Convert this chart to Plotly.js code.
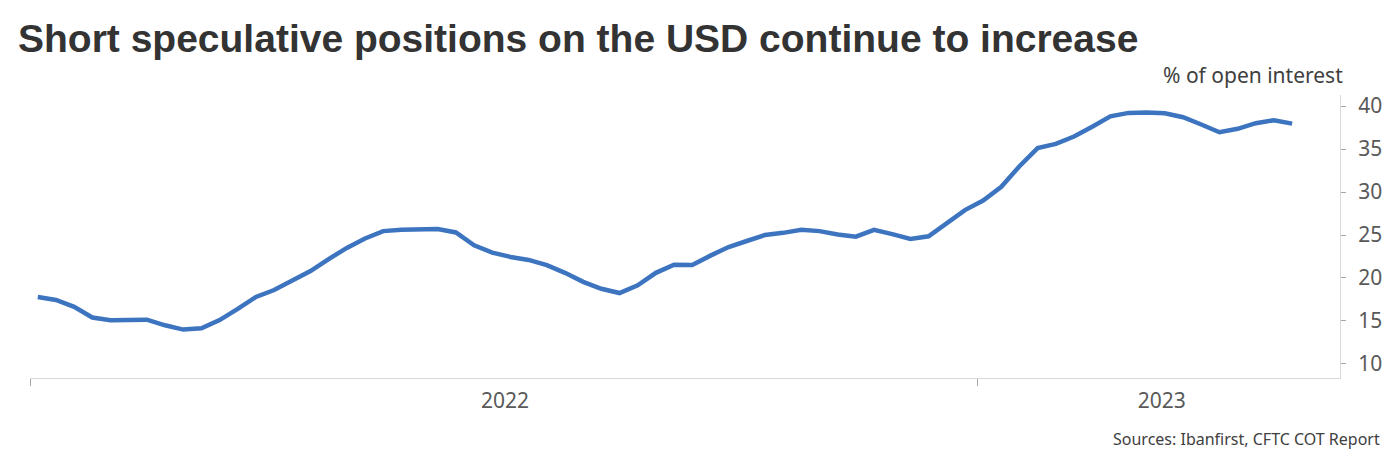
<!DOCTYPE html>
<html>
<head>
<meta charset="utf-8">
<script src="https://cdn.plot.ly/plotly-3.0.1.min.js"></script>
<style>
  html, body { margin: 0; padding: 0; background: #ffffff; }
  #chart { width: 1400px; height: 470px; }
</style>
</head>
<body>
<div id="chart"></div>
<script>
// Weekly CFTC COT report dates (Tuesdays)
const dates = [
  "2022-01-04","2022-01-11","2022-01-18","2022-01-25",
  "2022-02-01","2022-02-08","2022-02-15","2022-02-22",
  "2022-03-01","2022-03-08","2022-03-15","2022-03-22","2022-03-29",
  "2022-04-05","2022-04-12","2022-04-19","2022-04-26",
  "2022-05-03","2022-05-10","2022-05-17","2022-05-24","2022-05-31",
  "2022-06-07","2022-06-14","2022-06-21","2022-06-28",
  "2022-07-05","2022-07-12","2022-07-19","2022-07-26",
  "2022-08-02","2022-08-09","2022-08-16","2022-08-23","2022-08-30",
  "2022-09-06","2022-09-13","2022-09-20","2022-09-27",
  "2022-10-04","2022-10-11","2022-10-18","2022-10-25",
  "2022-11-01","2022-11-08","2022-11-15","2022-11-22","2022-11-29",
  "2022-12-06","2022-12-13","2022-12-20","2022-12-27",
  "2023-01-03","2023-01-10","2023-01-17","2023-01-24","2023-01-31",
  "2023-02-07","2023-02-14","2023-02-21","2023-02-28",
  "2023-03-07","2023-03-14","2023-03-21","2023-03-28",
  "2023-04-04","2023-04-11","2023-04-18","2023-04-25",
  "2023-05-02"
];

// Short speculative USD positions, % of open interest
const shortPositions = [
  17.8, 17.45, 16.65, 15.4,
  15.1, 15.15, 15.15, 14.5,
  14.0, 14.15, 15.1, 16.4, 17.8,
  18.6, 19.75, 20.8, 22.2,
  23.5, 24.6, 25.45, 25.6, 25.65,
  25.7, 25.3, 23.8, 22.95,
  22.45, 22.1, 21.5, 20.6,
  19.55, 18.75, 18.25, 19.15, 20.6,
  21.55, 21.5, 22.6, 23.6,
  24.3, 25.0, 25.25, 25.6,
  25.45, 25.05, 24.8, 25.6, 25.1,
  24.55, 24.85, 26.3, 27.9,
  29.0, 30.6, 33.0, 35.1, 35.6,
  36.45, 37.6, 38.8, 39.2,
  39.25, 39.15, 38.7, 37.85,
  36.95, 37.35, 38.0, 38.35,
  37.95
];

// Year boundaries (tick marks) and year labels (centred in each visible year span)
const yearBoundaries = ["2022-01-01", "2023-01-01"];
const yearLabels = ["2022", "2023"];
const yearLabelDates = ["2022-07-02 21:00", "2023-03-12 19:00"];

const yTicks = [10, 15, 20, 25, 30, 35, 40];

const titleText = "Short speculative positions on the USD continue to increase";
const unitText = "% of open interest";
const sourceText = "Sources: Ibanfirst, CFTC COT Report";

const axisFont = { family: "Noto Sans, Open Sans, sans-serif", size: 21, color: "#595959" };

const trace = {
  type: "scatter",
  mode: "lines",
  x: dates,
  y: shortPositions,
  line: { color: "#3d74c0", width: 4.5 },
  hoverinfo: "x+y"
};

const layout = {
  width: 1400,
  height: 470,
  paper_bgcolor: "#ffffff",
  plot_bgcolor: "#ffffff",
  margin: { l: 30, r: 60, t: 95, b: 92 },
  showlegend: false,
  title: {
    text: "<b>" + titleText + "</b>",
    font: { family: "Liberation Sans, Arial, sans-serif", size: 39, color: "#333333" },
    x: 18 / 1400,
    xanchor: "left",
    xref: "container",
    yref: "container",
    y: 1 - 38 / 470,
    yanchor: "middle"
  },
  xaxis: {
    type: "date",
    range: ["2022-01-01", "2023-05-20 10:00"],
    tickmode: "array",
    tickvals: yearLabelDates,
    ticktext: yearLabels,
    ticks: "",
    minor: {
      tickmode: "array",
      tickvals: yearBoundaries,
      ticks: "outside",
      ticklen: 7,
      tickcolor: "#a6a6a6",
      tickwidth: 1,
      showgrid: false
    },
    showline: true,
    linecolor: "#d9d9d9",
    linewidth: 1,
    showgrid: false,
    zeroline: false,
    tickfont: axisFont,
    ticklabelstandoff: 4
  },
  yaxis: {
    side: "right",
    range: [8.37, 41.28],
    tickvals: yTicks,
    ticks: "outside",
    ticklen: 5,
    tickcolor: "#a6a6a6",
    tickwidth: 1,
    showline: true,
    linecolor: "#d9d9d9",
    linewidth: 1,
    showgrid: false,
    zeroline: false,
    tickfont: axisFont,
    ticklabelstandoff: 8
  },
  annotations: [
    {
      text: unitText,
      xref: "paper", yref: "paper",
      x: 1.004, y: 1,
      xanchor: "right", yanchor: "bottom",
      yshift: 4,
      showarrow: false,
      font: { family: "Noto Sans, Open Sans, sans-serif", size: 21, color: "#404040" }
    },
    {
      text: sourceText,
      xref: "paper", yref: "paper",
      x: 1 + 42 / 1310, y: 0,
      xanchor: "right", yanchor: "top",
      yshift: -48,
      showarrow: false,
      font: { family: "Noto Sans, Open Sans, sans-serif", size: 16, color: "#404040" }
    }
  ]
};

Plotly.newPlot("chart", [trace], layout, { displayModeBar: false, staticPlot: true });
</script>
</body>
</html>
